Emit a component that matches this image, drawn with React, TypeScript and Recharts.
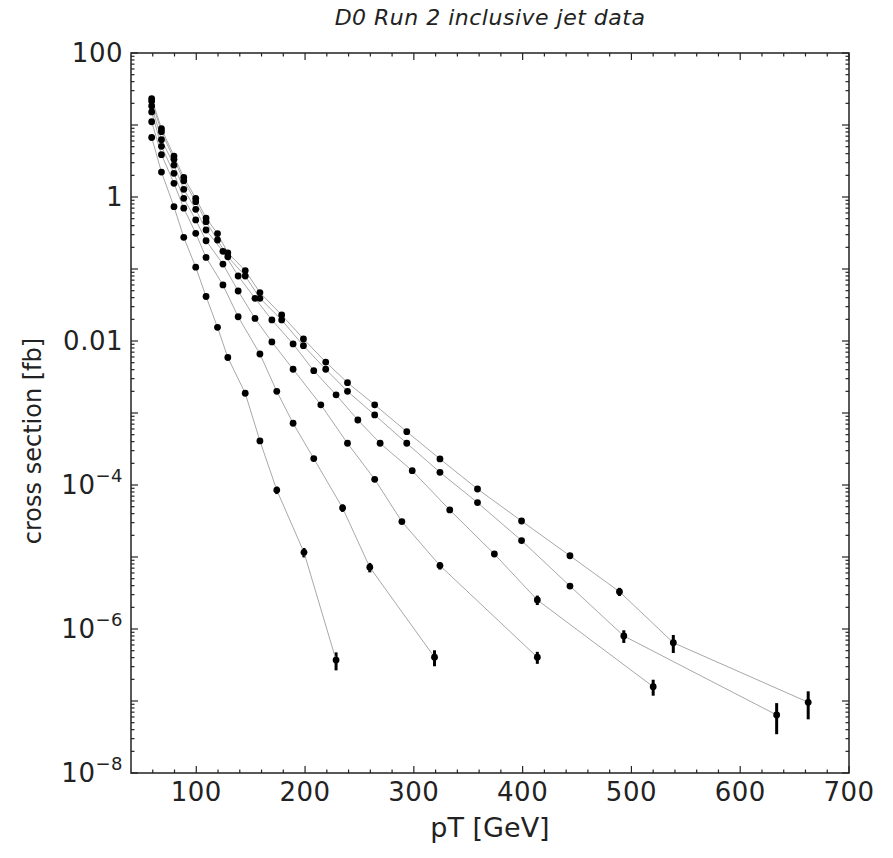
import React from 'react'
import { LineChart, Line, XAxis, YAxis, ErrorBar, ReferenceArea } from 'recharts'

const W = 893
const H = 858
const LEFT = 131
const RIGHT = 849
const TOP = 53
const BOTTOM = 773
const FONT = '"DejaVu Sans", Verdana, sans-serif'

// rapidity bin |y| < 0.4
const PT_Y1 = [59, 68, 79.5, 88.5, 99.5, 109, 119.5, 129, 145, 158.5, 178.5, 198.5, 219, 239, 264, 293.5, 324, 358.5, 399, 443.5, 489, 538.5, 662.5]
const XS_Y1 = [23.3, 8.9, 3.7, 1.87, 0.96, 0.51, 0.31, 0.168, 0.095, 0.047, 0.023, 0.0107, 0.0051, 0.00264, 0.0013, 5.5e-4, 2.3e-4, 8.8e-5, 3.16e-5, 1.04e-5, 3.3e-6, 6.45e-7, 9.6e-8]
const ERR_Y1 = [0.01, 0.01, 0.01, 0.01, 0.01, 0.01, 0.01, 0.01, 0.01, 0.01, 0.01, 0.01, 0.01, 0.01, 0.01, 0.02, 0.02, 0.03, 0.04, 0.06, 0.13, 0.28, 0.42]

// 0.4 < |y| < 0.8
const PT_Y2 = [59, 68, 79.5, 88.5, 99.5, 109, 119.5, 129, 145, 158.5, 178.5, 198.5, 219, 239, 264, 293.5, 324, 358.5, 399, 443.5, 493, 633.5]
const XS_Y2 = [21.5, 8.07, 3.34, 1.68, 0.86, 0.454, 0.253, 0.148, 0.08, 0.0392, 0.0196, 0.0086, 0.00405, 0.002, 9.4e-4, 3.8e-4, 1.5e-4, 5.7e-5, 1.69e-5, 3.95e-6, 8.0e-7, 6.4e-8]
const ERR_Y2 = [0.01, 0.01, 0.01, 0.01, 0.01, 0.01, 0.01, 0.01, 0.01, 0.01, 0.01, 0.01, 0.01, 0.01, 0.01, 0.02, 0.02, 0.03, 0.05, 0.08, 0.2, 0.46]

// 0.8 < |y| < 1.2
const PT_Y3 = [59, 68, 79.5, 88.5, 99.5, 109, 124.5, 138.5, 154, 169.5, 189, 208, 228.5, 248.5, 269, 298.5, 333, 374, 413.5, 520]
const XS_Y3 = [18.4, 6.25, 2.78, 1.28, 0.674, 0.348, 0.176, 0.08, 0.0392, 0.0196, 0.0091, 0.00387, 0.00179, 8.0e-4, 3.8e-4, 1.58e-4, 4.5e-5, 1.1e-5, 2.53e-6, 1.58e-7]
const ERR_Y3 = [0.01, 0.01, 0.01, 0.01, 0.01, 0.01, 0.01, 0.01, 0.01, 0.01, 0.01, 0.01, 0.01, 0.01, 0.01, 0.02, 0.03, 0.05, 0.15, 0.25]

// 1.2 < |y| < 1.6
const PT_Y4 = [59, 68, 79.5, 88.5, 99.5, 109, 124.5, 138.5, 154, 169.5, 189, 214.5, 239, 264, 289, 324, 413.5]
const XS_Y4 = [15.2, 5.06, 2.13, 0.96, 0.48, 0.247, 0.117, 0.0495, 0.0206, 0.0097, 0.00405, 0.0013, 3.8e-4, 1.2e-4, 3.1e-5, 7.6e-6, 4.05e-7]
const ERR_Y4 = [0.01, 0.01, 0.01, 0.01, 0.01, 0.01, 0.01, 0.01, 0.01, 0.01, 0.01, 0.01, 0.01, 0.03, 0.05, 0.12, 0.19]

// 1.6 < |y| < 2.0
const PT_Y5 = [59, 68, 79.5, 88.5, 99.5, 109, 124.5, 138.5, 158.5, 174, 189, 208, 234.5, 259.5, 319]
const XS_Y5 = [11.1, 3.87, 1.55, 0.7, 0.313, 0.145, 0.06, 0.0217, 0.0066, 0.002, 7.2e-4, 2.33e-4, 4.8e-5, 7.2e-6, 4.05e-7]
const ERR_Y5 = [0.01, 0.01, 0.01, 0.01, 0.01, 0.01, 0.01, 0.01, 0.01, 0.01, 0.01, 0.04, 0.12, 0.15, 0.25]

// 2.0 < |y| < 2.4
const PT_Y6 = [59, 68, 79.5, 88.5, 99.5, 109, 119.5, 129, 145, 158.5, 174, 199, 228.5]
const XS_Y6 = [6.7, 2.22, 0.733, 0.275, 0.106, 0.0415, 0.0155, 0.0059, 0.00188, 4.1e-4, 8.5e-5, 1.16e-5, 3.7e-7]
const ERR_Y6 = [0.01, 0.01, 0.01, 0.01, 0.01, 0.01, 0.01, 0.01, 0.01, 0.05, 0.12, 0.15, 0.28]

const X_TICKS = [60, 80, 100, 120, 140, 160, 180, 200, 220, 240, 260, 280, 300, 320, 340, 360, 380, 400, 420, 440, 460, 480, 500, 520, 540, 560, 580, 600, 620, 640, 660, 680, 700]
const X_LABELS = [100, 200, 300, 400, 500, 600, 700]
const Y_DECADES = [1e-8, 1e-7, 1e-6, 1e-5, 1e-4, 1e-3, 1e-2, 1e-1, 1, 10, 100]
const Y_LABELS: Record<string, [string, string]> = {
  '100': ['100', ''],
  '1': ['1', ''],
  '0.01': ['0.01', ''],
  '0.0001': ['10', '\u22124'],
  '0.000001': ['10', '\u22126'],
  '1e-8': ['10', '\u22128'],
}
const Y_MINOR = Y_DECADES.slice(0, -1).flatMap(d => [2, 3, 4, 5, 6, 7, 8, 9].map(m => +(d * m).toPrecision(3)))

const series = [
  [PT_Y1, XS_Y1, ERR_Y1],
  [PT_Y2, XS_Y2, ERR_Y2],
  [PT_Y3, XS_Y3, ERR_Y3],
  [PT_Y4, XS_Y4, ERR_Y4],
  [PT_Y5, XS_Y5, ERR_Y5],
  [PT_Y6, XS_Y6, ERR_Y6],
].map(([pt, xs, err]) => pt.map((p, i) => ({ pt: p, xs: xs[i], err: [xs[i] * err[i], xs[i] * err[i]] })))

function XTick(props: any) {
  const { x, payload } = props
  const v = payload.value
  const major = X_LABELS.includes(v)
  const len = major ? 7 : 3.5
  return (
    <g>
      <line x1={x} x2={x} y1={BOTTOM} y2={BOTTOM - len} stroke="#222" strokeWidth={1.2} />
      <line x1={x} x2={x} y1={TOP} y2={TOP + len} stroke="#222" strokeWidth={1.2} />
      {major && (
        <text x={x} y={BOTTOM + 28} textAnchor="middle" fontSize={26} fontFamily={FONT} fill="#222" letterSpacing={0.5}>
          {v}
        </text>
      )}
    </g>
  )
}

function YTick(props: any) {
  const { y, payload } = props
  const v = payload.value
  const major = Y_DECADES.includes(v)
  const len = major ? 7 : 3.5
  const lab = Y_LABELS[String(v)]
  return (
    <g>
      <line x1={LEFT} x2={LEFT + len} y1={y} y2={y} stroke="#222" strokeWidth={1.2} />
      <line x1={RIGHT} x2={RIGHT - len} y1={y} y2={y} stroke="#222" strokeWidth={1.2} />
      {lab && (
        <text x={LEFT - 8} y={y + 9} textAnchor="end" fontSize={26} fontFamily={FONT} fill="#222" letterSpacing={0.5}>
          {lab[0]}
          {lab[1] && (
            <tspan dy={-12} fontSize={18}>
              {lab[1]}
            </tspan>
          )}
        </text>
      )}
    </g>
  )
}

export default function App() {
  return (
    <div style={{ position: 'absolute', left: 0, top: 0, width: W, height: H, background: '#fff' }}>
      <div
        style={{
          position: 'absolute', left: LEFT, width: RIGHT - LEFT, top: 5, textAlign: 'center',
          fontFamily: FONT, fontStyle: 'italic', fontSize: 22, color: '#222', letterSpacing: 0.5,
        }}
      >
        D0 Run 2 inclusive jet data
      </div>
      <div
        style={{
          position: 'absolute', left: LEFT, width: RIGHT - LEFT, top: 812, textAlign: 'center',
          fontFamily: FONT, fontSize: 27, color: '#222',
        }}
      >
        pT [GeV]
      </div>
      <div
        style={{
          position: 'absolute', left: 33, top: 441, transform: 'translate(-50%, -50%) rotate(-90deg)',
          whiteSpace: 'nowrap', fontFamily: FONT, fontSize: 24, color: '#222',
        }}
      >
        cross section [fb]
      </div>
      <LineChart width={W} height={H} margin={{ top: TOP, right: W - RIGHT, bottom: 45, left: LEFT - 80 }}>
        <XAxis
          type="number"
          dataKey="pt"
          domain={[40, 700]}
          ticks={X_TICKS}
          interval={0}
          height={40}
          axisLine={false}
          tickLine={false}
          tick={XTick}
          allowDataOverflow
        />
        <YAxis
          type="number"
          scale="log"
          domain={[1e-8, 100]}
          ticks={[...Y_DECADES, ...Y_MINOR]}
          interval={0}
          width={80}
          axisLine={false}
          tickLine={false}
          tick={YTick}
          allowDataOverflow
        />
        <ReferenceArea x1={40} x2={700} y1={1e-8} y2={100} fill="none" stroke="#222" strokeWidth={1.5} ifOverflow="visible" />
        {series.map((data, i) => (
          <Line
            key={i}
            data={data}
            dataKey="xs"
            stroke="#a8a8a8"
            strokeWidth={1}
            dot={{ r: 3.4, fill: '#000', stroke: '#000', strokeWidth: 0 }}
            activeDot={false}
            isAnimationActive={false}
          >
            <ErrorBar dataKey="err" width={0} stroke="#000" strokeWidth={3} isAnimationActive={false} />
          </Line>
        ))}
      </LineChart>
    </div>
  )
}
